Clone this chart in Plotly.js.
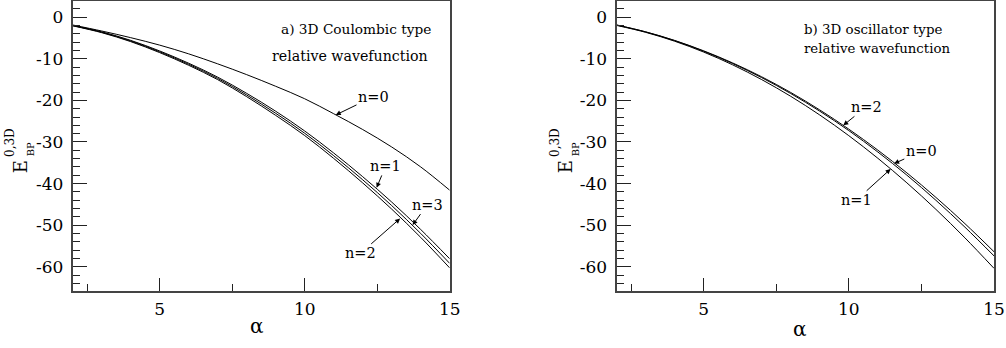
<!DOCTYPE html>
<html>
<head>
<meta charset="utf-8">
<script src="https://cdn.plot.ly/plotly-3.0.1.min.js"></script>
<style>
  html, body { margin: 0; padding: 0; background: #fff; }
  #chart { width: 1006px; height: 348px; }
</style>
</head>
<body>
<div id="chart"></div>
<script>
// alpha grid
var alphaValues = [2, 3, 4, 5, 6, 7, 8, 9, 10, 11, 12, 13, 14, 15];

// a) 3D Coulombic type relative wavefunction
var coulombN0 = [-1.85, -3.3, -4.9, -6.7, -8.8, -11.2, -13.8, -16.6, -19.6, -23.2, -27.0, -31.2, -36.0, -41.6];
var coulombN1 = [-1.95, -3.5, -5.55, -8.1, -11.05, -14.4, -18.3, -22.6, -27.35, -32.65, -38.35, -44.45, -51.05, -58.1];
var coulombN3 = [-2.0, -3.6, -5.7, -8.3, -11.3, -14.7, -18.7, -23.1, -27.9, -33.3, -39.1, -45.3, -52.0, -59.2];
var coulombN2 = [-2.05, -3.7, -5.85, -8.5, -11.55, -15.0, -19.1, -23.6, -28.45, -33.95, -39.85, -46.15, -52.95, -60.3];

// b) 3D oscillator type relative wavefunction
var oscN2 = [-1.85, -3.49, -5.56, -8.06, -10.98, -14.32, -18.09, -22.29, -26.91, -31.96, -37.43, -43.33, -49.65, -56.4];
var oscN0 = [-1.85, -3.52, -5.62, -8.16, -11.13, -14.52, -18.34, -22.59, -27.26, -32.41, -37.98, -44.03, -50.5, -57.4];
var oscN1 = [-1.95, -3.61, -5.75, -8.36, -11.44, -14.99, -19.01, -23.51, -28.48, -33.92, -39.83, -46.21, -53.07, -60.4];

var yTickValues = [0, -10, -20, -30, -40, -50, -60];
var yTickLabels = ["0", "-10", "-20", "-30", "-40", "-50", "-60"];
var xTickValues = [5, 10, 15];
var xTickLabels = ["5", "10", "15"];

var pageWidth = 1006;
var pageHeight = 348;
// the only serif face that actually renders in the sandbox
var serifFont = "DejaVu Serif";

function paperX(px) {
  return px / pageWidth;
}

function paperY(py) {
  return 1 - py / pageHeight;
}

function makeCurve(yValues, xaxis, yaxis) {
  return {
    x: alphaValues,
    y: yValues,
    xaxis: xaxis,
    yaxis: yaxis,
    type: "scatter",
    mode: "lines",
    line: { color: "#000", width: 1, shape: "spline" },
    hoverinfo: "skip",
  };
}

function makeXAxis(left, right, anchor) {
  return {
    domain: [paperX(left), paperX(right)],
    range: [2, 15],
    anchor: anchor,
    tickmode: "array",
    tickvals: xTickValues,
    ticktext: xTickLabels,
    ticks: "inside",
    ticklen: 13,
    tickwidth: 1,
    tickcolor: "#222",
    ticklabelstandoff: 2,
    minor: { tickmode: "linear", tick0: 0, dtick: 2.5, ticks: "inside", ticklen: 7, tickwidth: 1, tickcolor: "#222" },
    showline: true,
    linecolor: "#444",
    linewidth: 2,
    mirror: true,
    showgrid: false,
    zeroline: false,
    tickfont: { family: serifFont, size: 17, color: "#000" },
    fixedrange: true,
  };
}

function makeYAxis(anchor) {
  return {
    domain: [paperY(291), paperY(1)],
    range: [-65.85, 3.92],
    anchor: anchor,
    tickmode: "array",
    tickvals: yTickValues,
    ticktext: yTickLabels,
    ticks: "inside",
    ticklen: 14,
    tickwidth: 1,
    tickcolor: "#222",
    ticklabelstandoff: 4,
    minor: { tickmode: "linear", tick0: 0, dtick: 2, ticks: "inside", ticklen: 7, tickwidth: 1, tickcolor: "#222" },
    showline: true,
    linecolor: "#444",
    linewidth: 2,
    mirror: true,
    showgrid: false,
    zeroline: false,
    tickfont: { family: serifFont, size: 17, color: "#000" },
    fixedrange: true,
  };
}

function curveLabel(text, x, y, ax, ay, xref, yref) {
  return {
    text: text,
    x: x,
    y: y,
    xref: xref,
    yref: yref,
    ax: ax,
    ay: ay,
    showarrow: true,
    arrowhead: 2,
    arrowsize: 1,
    arrowwidth: 1,
    arrowcolor: "#000",
    standoff: 0,
    font: { family: serifFont, size: 14.5, color: "#000" },
  };
}

// free text placed by its centre, in page pixels
function pageText(text, px, py, size, angle) {
  return {
    text: text,
    x: paperX(px),
    y: paperY(py),
    xref: "paper",
    yref: "paper",
    xanchor: "center",
    yanchor: "middle",
    textangle: angle || 0,
    showarrow: false,
    font: { family: serifFont, size: size, color: "#000" },
  };
}

// y-axis title E with stacked super/subscript, built from three rotated pieces
function yTitle(shift) {
  return [
    pageText("E", 20.8 + shift, 166.5, 18, -90),
    pageText("0,3D", 9.5 + shift, 142.5, 12, -90),
    pageText("BP", 30.5 + shift, 149.8, 10, -90),
  ];
}

var data = [
  makeCurve(coulombN0, "x", "y"),
  makeCurve(coulombN1, "x", "y"),
  makeCurve(coulombN3, "x", "y"),
  makeCurve(coulombN2, "x", "y"),
  makeCurve(oscN2, "x2", "y2"),
  makeCurve(oscN0, "x2", "y2"),
  makeCurve(oscN1, "x2", "y2"),
];

var annotations = [
  pageText("a) 3D Coulombic type", 356.2, 29.5, 13.7),
  pageText("relative wavefunction", 349.5, 56, 14.2),
  pageText("b) 3D oscillator type", 873.2, 29, 13.4),
  pageText("relative wavefunction", 877, 48.5, 13.3),
  pageText("α", 256.7, 326, 20),
  pageText("α", 800, 329, 20),

  curveLabel("n=0", 11.07, -23.5, 37.8, -18.3, "x", "y"),
  curveLabel("n=1", 12.48, -41.0, 9.1, -21.8, "x", "y"),
  curveLabel("n=3", 13.72, -50.0, 14.8, -20.5, "x", "y"),
  curveLabel("n=2", 13.29, -48.4, -39.7, 34.9, "x", "y"),

  curveLabel("n=2", 9.81, -26.0, 22.9, -18.5, "x2", "y2"),
  curveLabel("n=0", 11.56, -35.2, 27.2, -12.3, "x2", "y2"),
  curveLabel("n=1", 11.44, -36.5, -34.4, 31.2, "x2", "y2"),
].concat(yTitle(0), yTitle(545));

var layout = {
  width: pageWidth,
  height: pageHeight,
  margin: { l: 0, r: 0, t: 0, b: 0 },
  showlegend: false,
  paper_bgcolor: "#fff",
  plot_bgcolor: "#fff",
  font: { family: serifFont, color: "#000" },
  xaxis: makeXAxis(72.7, 449.7, "y"),
  yaxis: makeYAxis("x"),
  xaxis2: makeXAxis(616.5, 994, "y2"),
  yaxis2: makeYAxis("x2"),
  annotations: annotations,
};

Plotly.newPlot("chart", data, layout, { staticPlot: true, displayModeBar: false });
</script>
</body>
</html>
